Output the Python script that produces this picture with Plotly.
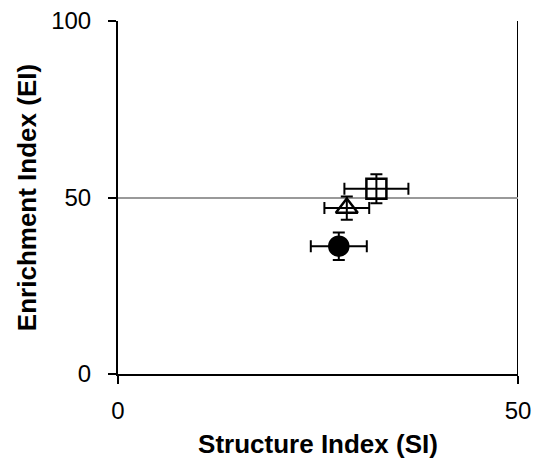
import plotly.graph_objects as go

# Nematode faunal indices per treatment (mean ± error)
treatments = ["Treatment A", "Treatment B", "Treatment C"]
si_values = [27.6, 28.6, 32.3]
si_errors = [3.5, 2.8, 4.0]
ei_values = [36.2, 47.0, 52.5]
ei_errors = [3.9, 3.3, 4.1]
symbols = ["circle", "triangle-up-open", "square-open"]
sizes = [19, 19, 20]

x_ticks = [0, 50]
y_ticks = [0, 50, 100]

fig = go.Figure()

for name, x, xe, y, ye, sym, sz in zip(treatments, si_values, si_errors,
                                        ei_values, ei_errors, symbols, sizes):
    fig.add_trace(go.Scatter(
        x=[x], y=[y], name=name, mode="markers",
        marker=dict(symbol=sym, size=sz, color="black",
                    line=dict(color="black", width=2.5)),
        error_x=dict(type="data", array=[xe], color="black", thickness=2, width=6),
        error_y=dict(type="data", array=[ye], color="black", thickness=2, width=6),
        showlegend=False,
    ))

# right-hand frame edge
fig.add_shape(type="line", xref="x", yref="y", x0=50, x1=50, y0=0, y1=100,
              line=dict(color="black", width=2), layer="below")

font_family = "Liberation Sans, Arial, sans-serif"

fig.update_layout(
    width=542, height=459,
    margin=dict(l=118, r=24, t=21, b=85),
    paper_bgcolor="white", plot_bgcolor="white",
    font=dict(family=font_family, size=24, color="black"),
    xaxis=dict(
        range=[0, 50], tickvals=x_ticks, ticks="outside", ticklen=8, tickwidth=2,
        tickcolor="black", showline=True, linecolor="black", linewidth=2,
        showgrid=False, zeroline=False, tickfont=dict(size=24),
        ticklabelstandoff=6, automargin=False,
        title=dict(text="<b>Structure Index (SI)</b>", font=dict(size=26), standoff=12),
    ),
    yaxis=dict(
        range=[0, 100], tickvals=y_ticks, ticks="outside", ticklen=8, tickwidth=2,
        tickcolor="black", showline=True, linecolor="black", linewidth=2,
        showgrid=True, gridcolor="#999999", gridwidth=1.5, zeroline=False,
        tickfont=dict(size=24), ticklabelstandoff=12, automargin=False,
        title=dict(text="<b>Enrichment Index (EI)</b>", font=dict(size=26), standoff=7),
    ),
)

fig.write_html("out.html")
